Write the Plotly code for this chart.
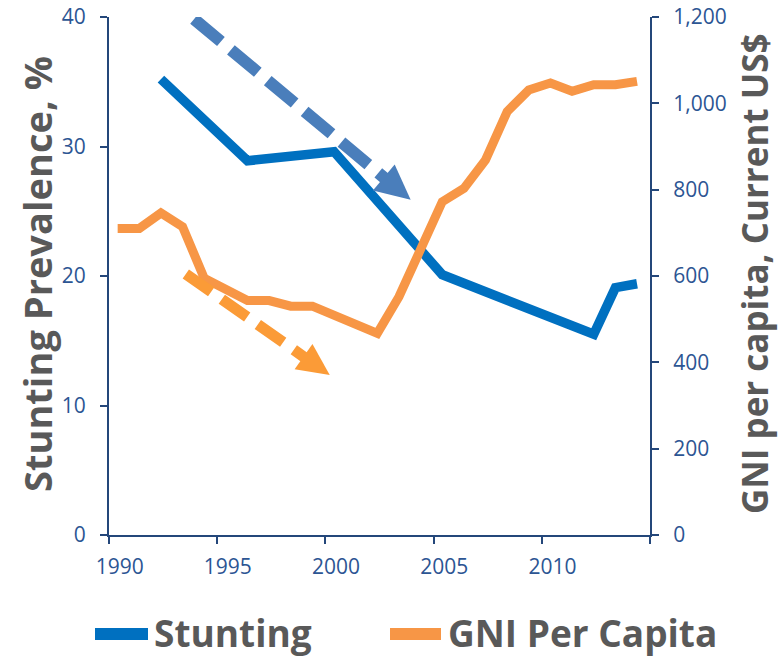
import plotly.graph_objects as go

# ---- data ----
stunting_years = [1992, 1996, 2000, 2005, 2012, 2013, 2014]
stunting_values = [35.2, 28.9, 29.6, 20.1, 15.5, 19.1, 19.4]

gni_years = list(range(1990, 2015))
gni_values = [710, 710, 746, 714, 595, 568, 543, 543, 530, 530, 510, 489, 467,
              552, 660, 772, 803, 869, 981, 1031, 1047, 1028, 1043, 1043, 1051]

x_tick_labels = ["1990", "1995", "2000", "2005", "2010"]
x_label_years = [1990, 1995, 2000, 2005, 2010]
x_tick_marks = [1989.6, 1994.6, 1999.6, 2004.6, 2009.6, 2014.6]

# trend arrows (data units: x = year, y = stunting %)
arrow_blue = {"start": (1993.53, 39.84), "tip": (2003.54, 25.88)}
arrow_orange = {"start": (1993.15, 20.16), "tip": (1999.80, 12.35)}

# ---- style ----
BLUE = "#0070C0"
ORANGE = "#F79646"
ARROW_BLUE = "#4A7EBB"
ARROW_ORANGE = "#FB9B37"
AXIS = "#24477A"
TICK = "#2C5593"
TITLE = "#595959"
FONT = "Open Sans"

W, H = 779, 659
ML, MR, MT, MB = 109, 129, 17, 124
PW, PH = W - ML - MR, H - MT - MB
X0, X1 = 1989.6, 2014.6
Y0, Y1 = 0, 40
sx = PW / (X1 - X0)
sy = PH / (Y1 - Y0)

fig = go.Figure()
fig.add_trace(go.Scatter(x=stunting_years, y=stunting_values, mode="lines",
                         name="Stunting", line=dict(color=BLUE, width=9.5),
                         showlegend=False))
fig.add_trace(go.Scatter(x=gni_years, y=gni_values, mode="lines", yaxis="y2",
                         name="GNI Per Capita", line=dict(color=ORANGE, width=9),
                         showlegend=False))

shapes = []


def add_arrow(spec, color, lw, head_len, head_half, dash):
    (xs, ys), (xt, yt) = spec["start"], spec["tip"]
    dxp = (xt - xs) * sx
    dyp = (yt - ys) * sy
    L = (dxp ** 2 + dyp ** 2) ** 0.5
    ux, uy = dxp / L, dyp / L
    nx, ny = -uy, ux
    bx = xt - (head_len - 3) * ux / sx
    by = yt - (head_len - 3) * uy / sy
    shapes.append(dict(type="line", xref="x", yref="y", x0=xs, y0=ys, x1=bx, y1=by,
                       line=dict(color=color, width=lw, dash=dash), layer="above"))
    cbx = xt - head_len * ux / sx
    cby = yt - head_len * uy / sy
    p1 = (cbx + head_half * nx / sx, cby + head_half * ny / sy)
    p2 = (cbx - head_half * nx / sx, cby - head_half * ny / sy)
    path = f"M{p1[0]},{p1[1]} L{xt},{yt} L{p2[0]},{p2[1]} Z"
    shapes.append(dict(type="path", xref="x", yref="y", path=path,
                       fillcolor=color, line=dict(width=0), layer="above"))


add_arrow(arrow_blue, ARROW_BLUE, 12, 35, 17, "35px,13px")
add_arrow(arrow_orange, ARROW_ORANGE, 11, 32, 15.5, "31px,13px")


def px2paper_x(px):
    return (px - ML) / PW


def px2paper_y(py):
    return (H - MB - py) / PH


# custom legend
leg_y = 632
shapes.append(dict(type="line", xref="paper", yref="paper",
                   x0=px2paper_x(95), x1=px2paper_x(148),
                   y0=px2paper_y(leg_y + 2), y1=px2paper_y(leg_y + 2),
                   line=dict(color=BLUE, width=12)))
shapes.append(dict(type="line", xref="paper", yref="paper",
                   x0=px2paper_x(390), x1=px2paper_x(441),
                   y0=px2paper_y(leg_y + 2), y1=px2paper_y(leg_y + 2),
                   line=dict(color=ORANGE, width=12)))

annotations = [
    dict(text="<b>Stunting</b>", xref="paper", yref="paper",
         x=px2paper_x(152), y=px2paper_y(leg_y), xanchor="left", yanchor="middle",
         showarrow=False, font=dict(family=FONT, size=37, color=TITLE)),
    dict(text="<b>GNI Per Capita</b>", xref="paper", yref="paper",
         x=px2paper_x(446), y=px2paper_y(leg_y), xanchor="left", yanchor="middle",
         showarrow=False, font=dict(family=FONT, size=37, color=TITLE)),
    dict(text="<b>Stunting Prevalence, %</b>", xref="paper", yref="paper",
         x=px2paper_x(37), y=px2paper_y(274), xanchor="center", yanchor="middle",
         textangle=-90, showarrow=False, font=dict(family=FONT, size=38, color=TITLE)),
    dict(text="<b>GNI per capita, Current US$</b>", xref="paper", yref="paper",
         x=px2paper_x(754), y=px2paper_y(274), xanchor="center", yanchor="middle",
         textangle=-90, showarrow=False, font=dict(family=FONT, size=35, color=TITLE)),
]

tickfont = dict(family=FONT, size=21, color=TICK)

fig.update_layout(
    width=W, height=H,
    margin=dict(l=ML, r=MR, t=MT, b=MB, pad=0, autoexpand=False),
    paper_bgcolor="white", plot_bgcolor="white",
    showlegend=False,
    shapes=shapes,
    annotations=annotations,
    xaxis=dict(range=[X0, X1], showgrid=False, zeroline=False, automargin=False,
               showline=True, linecolor=AXIS, linewidth=2,
               tickmode="array", tickvals=x_label_years, ticktext=x_tick_labels,
               ticks="", ticklabelshift=2, ticklabelstandoff=12, tickfont=tickfont,
               minor=dict(tickmode="array", tickvals=x_tick_marks, ticks="outside",
                          ticklen=7, tickwidth=2, tickcolor=AXIS, showgrid=False)),
    yaxis=dict(range=[Y0, Y1], dtick=10, showgrid=False, zeroline=False,
               automargin=False,
               showline=True, linecolor=AXIS, linewidth=2,
               ticks="outside", ticklen=7, tickwidth=2, tickcolor=AXIS,
               ticklabelstandoff=10, tickfont=tickfont),
    yaxis2=dict(range=[0, 1200], dtick=200, overlaying="y", side="right",
                showgrid=False, zeroline=False, tickformat=",", automargin=False,
                showline=True, linecolor=AXIS, linewidth=2,
                ticks="outside", ticklen=7, tickwidth=2, tickcolor=AXIS,
                ticklabelstandoff=10, tickfont=tickfont),
)

fig.write_html("out.html", config={"displayModeBar": False},
               post_script="document.body.style.margin='0';")
